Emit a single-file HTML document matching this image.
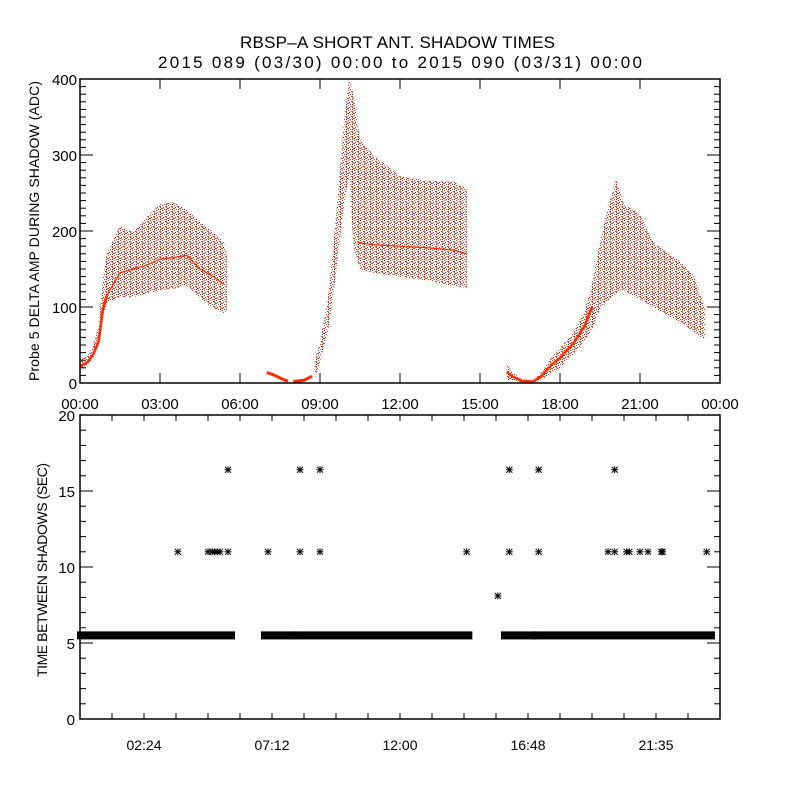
<!DOCTYPE html>
<html><head><meta charset="utf-8"><style>
body{margin:0;background:#fff}
svg{display:block}
text{font-family:"Liberation Sans",sans-serif;fill:#000}
</style></head><body>
<svg id="c" width="800" height="800" viewBox="0 0 800 800">
<defs>
<pattern id="dots" width="6" height="5" patternUnits="userSpaceOnUse">
<rect x="0" y="0" width="1" height="1" fill="#ff2a00"/>
<rect x="3" y="1" width="2" height="1" fill="#ff2a00"/>
<rect x="1" y="2" width="1" height="1" fill="#404060"/>
<rect x="4" y="2" width="1" height="1" fill="#ff2a00"/>
<rect x="5" y="3" width="1" height="1" fill="#ff2a00"/>
<rect x="0" y="3" width="1" height="1" fill="#ff2a00"/>
<rect x="2" y="4" width="1" height="1" fill="#ff2a00"/>
<rect x="4" y="4" width="1" height="1" fill="#303050"/>
</pattern>
</defs>
<text x="240" y="48" font-size="17" textLength="315" lengthAdjust="spacing">RBSP–A SHORT ANT. SHADOW TIMES</text>
<text x="158" y="68" font-size="17" textLength="484" lengthAdjust="spacing">2015 089 (03/30) 00:00 to 2015 090 (03/31) 00:00</text>
<g id="top"></g>
<g id="bot"></g>
</svg>
<script>
// ---- top panel data: [hour, low, high]
const seg1 = [[0,17,30],[0.3,24,36],[0.5,33,50],[0.7,50,75],[0.85,85,135],[1.0,105,170],[1.5,113,207],[2.0,113,198],[2.5,118,218],[3.0,122,235],[3.5,124,238],[4.0,128,228],[4.5,112,212],[5.0,98,198],[5.4,92,185],[5.5,95,170]];
const seg1Line = [[0,22],[0.3,28],[0.5,38],[0.7,55],[0.85,95],[1.0,115],[1.5,145],[2.0,150],[2.5,155],[3.0,163],[3.5,165],[4.0,168],[4.5,150],[5.0,140],[5.4,130]];
const seg2a = [[7.0,8,20],[7.3,6,14],[7.6,2,8],[7.8,0,5]];
const seg2b = [[8.0,0,4],[8.4,1,6],[8.7,4,14]];
const seg2 = [[8.8,5,30],[9.0,28,52],[9.3,68,112],[9.5,115,180],[9.7,175,260],[9.9,235,345],[10.1,275,402],[10.25,180,380],[10.5,150,320],[11.0,145,300],[12.0,140,272],[13.0,135,266],[14.0,128,265],[14.5,125,255]];
const seg2Line = [[10.4,185],[11,182],[12,180],[13,178],[14,175],[14.5,170]];
const seg3 = [[16.0,4,25],[16.2,4,14],[16.6,0,5],[17.0,0,4],[17.3,4,14],[17.7,14,35],[18.0,20,46],[18.5,38,66],[18.9,55,92],[19.2,70,130],[19.5,98,185],[19.8,108,232],[20.1,118,268],[20.4,122,235],[21.0,110,222],[21.5,100,185],[22.0,90,172],[22.5,80,160],[23.0,68,142],[23.3,60,112],[23.45,58,100]];
const topXLabels = ["00:00","03:00","06:00","09:00","12:00","15:00","18:00","21:00","00:00"];
const topYLabels = ["0","100","200","300","400"];
// ---- bottom panel data
const baseVal = 5.5;
const baseSegs = [[0,5.7],[6.9,8.0],[8.15,14.6],[15.9,17.0],[17.1,23.7]];
const outT = [3.67,4.8,4.95,5.05,5.15,5.25,5.55,5.55,7.05,8.25,8.25,9.0,9.0,14.5,15.67,16.1,16.1,17.2,17.2,19.8,20.05,20.5,20.05,20.6,21.0,21.3,21.8,21.85,23.5];
const outV = [11,11,11,11,11,11,11,16.4,11,16.4,11,16.4,11,11,8.1,16.4,11,16.4,11,11,11,11,16.4,11,11,11,11,11,11];
const botXLabels = ["02:24","07:12","12:00","16:48","21:35"];
const botYLabels = ["0","5","10","15","20"];

const NS="http://www.w3.org/2000/svg";
function mk(p,tag,a){const e=document.createElementNS(NS,tag);for(const k in a)e.setAttribute(k,a[k]);p.appendChild(e);return e;}
const L=80,R=720;
const xs=h=>L+(R-L)*h/24;
const T1=79,B1=383, yt=v=>B1-(B1-T1)*v/400;
const T2=415,B2=719, yb=v=>B2-(B2-T2)*v/20;
const gTop=document.getElementById('top'), gBot=document.getElementById('bot');

function band(arr,name){
  let d=arr.map((p,i)=>(i?'L':'M')+xs(p[0]).toFixed(1)+' '+yt(p[2]).toFixed(1)).join(' ');
  for(let i=arr.length-1;i>=0;i--)d+=' L'+xs(arr[i][0]).toFixed(1)+' '+yt(arr[i][1]).toFixed(1);
  const e=mk(gTop,'path',{d:d+'Z',fill:'url(#dots)'});
  
  
}
function line(arr,name,w){
  const e=mk(gTop,'polyline',{points:arr.map(p=>xs(p[0]).toFixed(1)+','+yt(p[1]).toFixed(1)).join(' '),fill:'none',stroke:'#ff2a00','stroke-width':w});
  
  
}
band(seg1,'shadow-amp-band-1');
line(seg1Line.slice(0,6),'shadow-amp-dense-1',2.5);
line(seg1Line.slice(5),'shadow-amp-dense-1b',1.2);
line(seg2a.map(p=>[p[0],(p[1]+p[2])/2]),'shadow-amp-dense-2a',3);
line(seg2b.map(p=>[p[0],(p[1]+p[2])/2]),'shadow-amp-dense-2b',3);
band(seg2,'shadow-amp-band-2');
line(seg2Line,'shadow-amp-dense-2',1.2);
band(seg3,'shadow-amp-band-3');
line(seg3.slice(0,10).map(p=>[p[0],(p[1]+p[2])/2]),'shadow-amp-dense-3',2.5);

function frame(g,T,B,name){const e=mk(g,'rect',{x:L,y:T,width:R-L,height:B-T,fill:'none',stroke:'#000','stroke-width':1.5});}
frame(gTop,T1,B1,'top-plot-frame');
frame(gBot,T2,B2,'bottom-plot-frame');

// top axes ticks
for(let i=0;i<=8;i++){const x=xs(i*3);
  mk(gTop,'line',{x1:x,y1:B1,x2:x,y2:B1-10,stroke:'#000'});mk(gTop,'line',{x1:x,y1:T1,x2:x,y2:T1+10,stroke:'#000'});
  const t=mk(gTop,'text',{x:x,y:B1+26,'font-size':15,'text-anchor':'middle'});t.textContent=topXLabels[i];
  
  }
for(let v=0;v<=400;v+=10){const y=yt(v),len=v%100===0?13:6;
  mk(gTop,'line',{x1:L,y1:y,x2:L+len,y2:y,stroke:'#000'});mk(gTop,'line',{x1:R,y1:y,x2:R-len,y2:y,stroke:'#000'});}
topYLabels.forEach(s=>{const t=mk(gTop,'text',{x:L-3,y:yt(+s)+6,'font-size':15,'text-anchor':'end'});t.textContent=s;
  
  });
const yt1=mk(gTop,'text',{x:0,y:0,'font-size':14,'text-anchor':'middle',textLength:300,lengthAdjust:'spacing',transform:'translate(39,231) rotate(-90)'});yt1.textContent='Probe 5 DELTA AMP DURING SHADOW (ADC)';



// bottom axes
for(let i=0;i<=20;i++){const x=xs(i*1.2);
  mk(gBot,'line',{x1:x,y1:B2,x2:x,y2:B2-6,stroke:'#000'});mk(gBot,'line',{x1:x,y1:T2,x2:x,y2:T2+6,stroke:'#000'});}
botXLabels.forEach((s,i)=>{const t=mk(gBot,'text',{x:xs(2.4+4.8*i),y:B2+31,'font-size':14,'text-anchor':'middle'});t.textContent=s;
  
  });
for(let v=0;v<=20;v++){const y=yb(v),len=v%5===0?13:6;
  mk(gBot,'line',{x1:L,y1:y,x2:L+len,y2:y,stroke:'#000'});mk(gBot,'line',{x1:R,y1:y,x2:R-len,y2:y,stroke:'#000'});}
botYLabels.forEach(s=>{const t=mk(gBot,'text',{x:L-5,y:yb(+s)+6,'font-size':15,'text-anchor':'end'});t.textContent=s;
  
  });
const yt2=mk(gBot,'text',{x:0,y:0,'font-size':14,'text-anchor':'middle',textLength:214,lengthAdjust:'spacing',transform:'translate(47,570) rotate(-90)'});yt2.textContent='TIME BETWEEN SHADOWS (SEC)';



function star(x,y){const g=mk(gBot,'g',{stroke:'#000','stroke-width':1});
  
  
  mk(g,'line',{x1:x-3.5,y1:y,x2:x+3.5,y2:y});mk(g,'line',{x1:x,y1:y-3.5,x2:x,y2:y+3.5});
  mk(g,'line',{x1:x-3,y1:y-3,x2:x+3,y2:y+3});mk(g,'line',{x1:x-3,y1:y+3,x2:x+3,y2:y-3});}
baseSegs.forEach(s=>{const x0=xs(s[0]),x1=xs(s[1]),y=yb(baseVal);
  const r=mk(gBot,'rect',{x:x0-3,y:y-4,width:x1-x0+6,height:8,fill:'#000'});
  
  });
outT.forEach((t,i)=>star(xs(t),yb(outV[i])));
</script>
</body></html>
